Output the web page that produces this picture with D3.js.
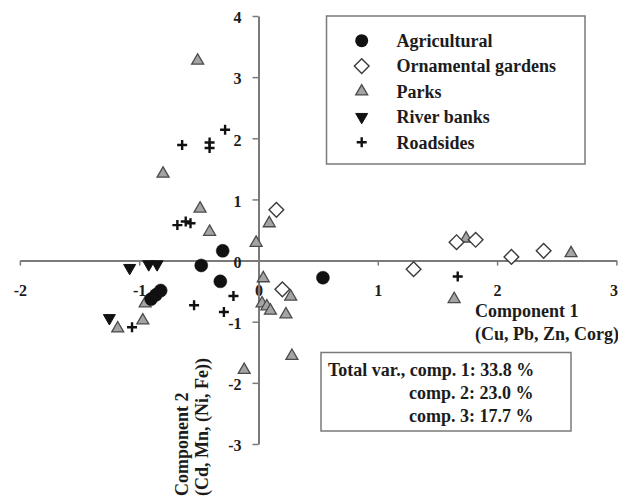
<!DOCTYPE html>
<html>
<head>
<meta charset="utf-8">
<script src="https://cdn.jsdelivr.net/npm/d3@7"></script>
<style>
  html, body { margin: 0; padding: 0; background: #fff; }
  svg { display: block; }
  text { font-family: "Liberation Serif", "Times New Roman", serif; font-weight: bold; fill: #1c1c1c; }
</style>
</head>
<body>
<svg id="chart" width="618" height="497"></svg>
<script>
// PCA scores of soil samples by land-use class: [component 1, component 2]
const agricultural = [[-0.30, 0.16], [-0.48, -0.08], [-0.32, -0.34], [0.54, -0.28],
  [-0.90, -0.63], [-0.86, -0.56], [-0.82, -0.49]];
const ornamental = [[0.15, 0.83], [0.20, -0.47], [1.30, -0.14], [1.66, 0.30],
  [1.82, 0.34], [2.12, 0.06], [2.39, 0.16]];
const parks = [[-0.51, 3.27], [-0.80, 1.42], [-0.49, 0.85], [-0.41, 0.47],
  [-0.02, 0.29], [0.09, 0.61], [0.04, -0.29], [0.03, -0.70], [0.07, -0.75],
  [0.10, -0.82], [0.27, -0.59], [0.23, -0.88], [0.28, -1.56], [-0.12, -1.79],
  [1.74, 0.36], [2.62, 0.12], [1.64, -0.63], [-0.95, -0.70], [-1.18, -1.11],
  [-0.97, -0.98]];
const riverBanks = [[-1.08, -0.12], [-0.92, -0.06], [-0.85, -0.06], [-1.25, -0.94]];
const roadsides = [[-0.64, 1.89], [-0.41, 1.93], [-0.41, 1.84], [-0.28, 2.14],
  [-0.68, 0.58], [-0.61, 0.64], [-0.57, 0.61], [-0.21, -0.58], [-0.54, -0.73],
  [-0.29, -0.84], [-1.06, -1.09], [1.67, -0.26]];

const xTicks = [-2, -1, 0, 1, 2, 3];
const yTicks = [-3, -2, -1, 0, 1, 2, 3, 4];
const legendLabels = ["Agricultural", "Ornamental gardens", "Parks", "River banks", "Roadsides"];
const xTitle = ["Component 1", "(Cu, Pb, Zn, Corg)"];
const yTitle = ["Component 2", "(Cd, Mn, (Ni, Fe))"];
const varianceLines = ["Total var., comp. 1: 33.8 %", "comp. 2: 23.0 %", "comp. 3: 17.7 %"];

const W = 618;
const svg = d3.select("#chart");
const x = d3.scaleLinear().domain([-2, 3]).range([19.9, 616.4]);
const y = d3.scaleLinear().domain([-3, 4]).range([444, 16]);

const axisColor = "#7a7a7a";

// x axis through the origin
const gx = svg.append("g")
  .attr("transform", `translate(0,${y(0)})`)
  .call(d3.axisBottom(x).tickValues(xTicks)
    .tickSize(5).tickSizeOuter(0).tickPadding(19));
// y axis through the origin
const gy = svg.append("g")
  .attr("transform", `translate(${x(0)},0)`)
  .call(d3.axisLeft(y).tickValues(yTicks)
    .tickSize(6).tickSizeOuter(0).tickPadding(11));

[gx, gy].forEach(g => {
  g.select(".domain").attr("stroke", axisColor).attr("stroke-width", 2);
  g.selectAll(".tick line").attr("stroke", axisColor).attr("stroke-width", 1.5);
  g.selectAll(".tick text").attr("fill", "#1c1c1c")
    .style("font-family", '"Liberation Serif", serif')
    .style("font-weight", "bold").style("font-size", "16px")
    .text(d => String(d)); // plain hyphen for negatives
});
gy.selectAll(".tick text").attr("dy", "0.42em");
// keep the last x label inside the page edge
gx.selectAll(".tick text")
  .filter(d => d === xTicks[xTicks.length - 1])
  .attr("text-anchor", "end")
  .attr("x", function () {
    const t = d3.select(this.parentNode).attr("transform");
    const tx = +t.match(/translate\(([-\d.]+)/)[1];
    return W - tx;
  });

// marker shapes
const triUp = d3.symbol().type(d3.symbolTriangle).size(62);
const diamond = d3.symbol().type(d3.symbolSquare).size(108);
const plusPath = h => `M${-h},0H${h}M0,${-h}V${h}`;

function drawCircles(g, data, r) {
  g.selectAll(null).data(data).join("circle")
    .attr("cx", d => x(d[0])).attr("cy", d => y(d[1])).attr("r", r)
    .attr("fill", "#111").attr("stroke", "#111").attr("stroke-width", 0.5);
}
function drawDiamonds(g, data) {
  g.selectAll(null).data(data).join("path")
    .attr("d", diamond)
    .attr("transform", d => `translate(${x(d[0])},${y(d[1])}) rotate(45)`)
    .attr("fill", "#fff").attr("stroke", "#3a3a3a").attr("stroke-width", 1.4);
}
function drawTriangles(g, data) {
  g.selectAll(null).data(data).join("path")
    .attr("d", triUp)
    .attr("transform", d => `translate(${x(d[0])},${y(d[1])})`)
    .attr("fill", "#a4a4a4").attr("stroke", "#4a4a4a").attr("stroke-width", 1.3);
}
function drawDownTriangles(g, data) {
  g.selectAll(null).data(data).join("path")
    .attr("d", triUp)
    .attr("transform", d => `translate(${x(d[0])},${y(d[1])}) rotate(180)`)
    .attr("fill", "#111").attr("stroke", "#111").attr("stroke-width", 1);
}
function drawPluses(g, data) {
  g.selectAll(null).data(data).join("path")
    .attr("d", plusPath(5))
    .attr("transform", d => `translate(${x(d[0])},${y(d[1])})`)
    .attr("fill", "none").attr("stroke", "#111").attr("stroke-width", 2.4);
}

const marks = svg.append("g");
drawTriangles(marks.append("g"), parks);
drawDiamonds(marks.append("g"), ornamental);
drawCircles(marks.append("g"), agricultural, 6.5);
drawDownTriangles(marks.append("g"), riverBanks);
drawPluses(marks.append("g"), roadsides);

// legend
const legend = svg.append("g");
legend.append("rect")
  .attr("x", 326.5).attr("y", 16).attr("width", 258.5).attr("height", 148)
  .attr("fill", "#fff").attr("stroke", axisColor).attr("stroke-width", 1.5);
const legendRowY = i => 40.7 + i * 25.4;
const mx = 361.7;
legend.append("circle").attr("cx", mx).attr("cy", legendRowY(0)).attr("r", 6.5).attr("fill", "#111");
legend.append("path").attr("d", diamond)
  .attr("transform", `translate(${mx},${legendRowY(1)}) rotate(45)`)
  .attr("fill", "#fff").attr("stroke", "#3a3a3a").attr("stroke-width", 1.4);
legend.append("path").attr("d", triUp)
  .attr("transform", `translate(${mx},${legendRowY(2)})`)
  .attr("fill", "#a4a4a4").attr("stroke", "#4a4a4a").attr("stroke-width", 1.3);
legend.append("path").attr("d", triUp)
  .attr("transform", `translate(${mx},${legendRowY(3)}) rotate(180)`)
  .attr("fill", "#111").attr("stroke", "#111");
legend.append("path").attr("d", plusPath(5))
  .attr("transform", `translate(${mx},${legendRowY(4)})`)
  .attr("stroke", "#111").attr("stroke-width", 2.4);
legend.selectAll("text.lbl").data(legendLabels).join("text")
  .attr("class", "lbl")
  .attr("x", 396.5).attr("y", (d, i) => legendRowY(i)).attr("dy", "0.35em")
  .style("font-size", "18px").text(d => d);

// axis titles
svg.selectAll("text.xt").data(xTitle).join("text").attr("class", "xt")
  .attr("x", 475).attr("y", (d, i) => 311 + i * 23).attr("dy", "0.35em")
  .style("font-size", "18px").text(d => d);
svg.selectAll("text.yt").data(yTitle).join("text").attr("class", "yt")
  .attr("transform", (d, i) => `translate(${181.7 + i * 20},496) rotate(-90)`)
  .attr("dy", "0.35em")
  .style("font-size", "18px").text(d => d);

// explained variance box
const vbox = svg.append("g");
vbox.append("rect")
  .attr("x", 321).attr("y", 352.5).attr("width", 250).attr("height", 78.5)
  .attr("fill", "#fff").attr("stroke", axisColor).attr("stroke-width", 1.5);
vbox.selectAll("text").data(varianceLines).join("text")
  .attr("x", (d, i) => i === 0 ? 328 : 409)
  .attr("y", (d, i) => 369.3 + i * 23.2).attr("dy", "0.35em")
  .style("font-size", "18px").text(d => d);
</script>
</body>
</html>
